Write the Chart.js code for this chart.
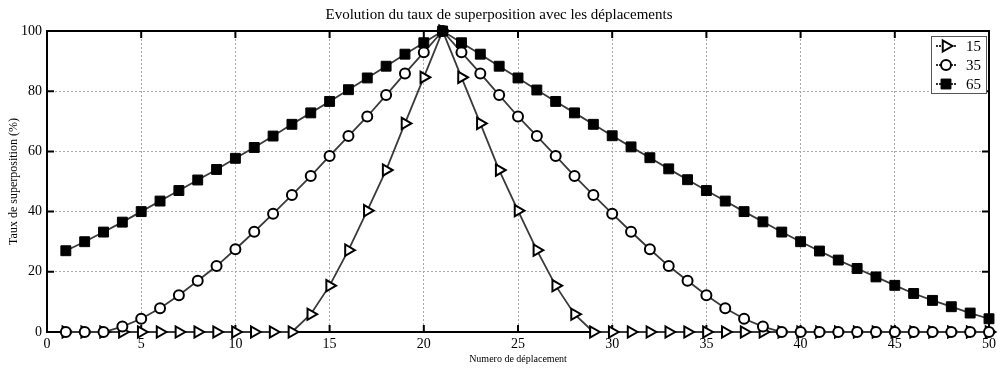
<!DOCTYPE html>
<html>
<head>
<meta charset="utf-8">
<script src="https://cdn.jsdelivr.net/npm/chart.js@4.4.0/dist/chart.umd.min.js"></script>
<style>
  html, body { margin: 0; padding: 0; background: #fff; }
  #wrap { width: 1000px; height: 370px; }
</style>
</head>
<body>
<div id="wrap"><canvas id="chart" width="1000" height="370"></canvas></div>
<script>
// numéros de déplacement (axe x)
const deplacements = [
  1, 2, 3, 4, 5, 6, 7, 8, 9, 10, 11, 12, 13, 14, 15, 16, 17, 18, 19, 20, 21, 22, 23, 24, 25,
  26, 27, 28, 29, 30, 31, 32, 33, 34, 35, 36, 37, 38, 39, 40, 41, 42, 43, 44, 45, 46, 47, 48, 49, 50
];

// taux de superposition (%)
const taux15 = [
  0, 0, 0, 0, 0, 0, 0, 0, 0, 0, 0, 0, 0,
  5.9, 15.4, 27.2, 40.3, 53.8, 69.3, 84.6, 100, 84.6, 69.3, 53.8, 40.3, 27.2, 15.4, 5.9,
  0, 0, 0, 0, 0, 0, 0, 0, 0, 0, 0, 0, 0, 0, 0, 0, 0, 0, 0, 0, 0, 0
];
const taux35 = [
  0, 0, 0,
  1.8, 4.4, 7.9, 12.2, 17, 21.9, 27.5, 33.3, 39.3, 45.5, 51.8, 58.5, 65.1, 71.6, 78.7, 85.9, 92.9,
  100,
  92.9, 85.9, 78.7, 71.6, 65.1, 58.5, 51.8, 45.5, 39.3, 33.3, 27.5, 21.9, 17, 12.2, 7.9, 4.4, 1.8,
  0, 0, 0, 0, 0, 0, 0, 0, 0, 0, 0, 0
];
const taux65 = [
  27, 30, 33.2, 36.5, 40, 43.5, 47, 50.5, 54, 57.7, 61.3, 65.1, 69, 72.8, 76.6, 80.5, 84.4, 88.3, 92.3, 96.1,
  100,
  96.1, 92.3, 88.3, 84.4, 80.4, 76.6, 72.8, 69, 65.2, 61.5, 57.9, 54.2, 50.6, 47, 43.5, 40, 36.6, 33.2, 30,
  26.9, 23.9, 21.1, 18.3, 15.5, 12.8, 10.5, 8.4, 6.3, 4.4
];

const serie = ['15', '35', '65'];

const police = 'Liberation Serif, Times New Roman, serif';

function points(valeurs) {
  return deplacements.map((d, i) => ({ x: d, y: valeurs[i] }));
}

// cadre noir + graduations vers l'intérieur (style matlab)
const cadre = {
  id: 'cadre',
  beforeDatasetsDraw(chart) {
    const { ctx, chartArea: a, scales } = chart;
    ctx.save();
    ctx.strokeStyle = '#000';
    ctx.lineWidth = 2;
    ctx.strokeRect(a.left, a.top, a.right - a.left, a.bottom - a.top);
    const lg = 7;
    ctx.beginPath();
    scales.x.ticks.forEach(t => {
      const px = scales.x.getPixelForValue(t.value);
      ctx.moveTo(px, a.bottom); ctx.lineTo(px, a.bottom - lg);
      ctx.moveTo(px, a.top); ctx.lineTo(px, a.top + lg);
    });
    scales.y.ticks.forEach(t => {
      const py = scales.y.getPixelForValue(t.value);
      ctx.moveTo(a.left, py); ctx.lineTo(a.left + lg, py);
      ctx.moveTo(a.right, py); ctx.lineTo(a.right - lg, py);
    });
    ctx.stroke();
    ctx.restore();
  }
};

// légende encadrée en haut à droite
const legende = {
  id: 'legende',
  afterDraw(chart) {
    const { ctx, chartArea: a } = chart;
    const bw = 55, bh = 57;
    const bx = a.right - bw - 3, by = a.top + 5;
    ctx.save();
    ctx.fillStyle = '#fff';
    ctx.fillRect(bx, by, bw, bh);
    ctx.strokeStyle = '#555';
    ctx.lineWidth = 1;
    ctx.strokeRect(bx + 0.5, by + 0.5, bw, bh);
    chart.data.datasets.forEach((ds, i) => {
      const cy = by + 10 + i * 19;
      ctx.strokeStyle = '#333';
      ctx.lineWidth = 2;
      ctx.setLineDash([2, 1]);
      ctx.beginPath();
      ctx.moveTo(bx + 5, cy); ctx.lineTo(bx + 25, cy);
      ctx.stroke();
      ctx.setLineDash([]);
      ctx.fillStyle = ds.pointBackgroundColor;
      ctx.strokeStyle = ds.pointBorderColor;
      ctx.lineWidth = ds.pointBorderWidth;
      Chart.helpers.drawPoint(ctx, {
        pointStyle: ds.pointStyle,
        rotation: ds.pointRotation || 0,
        radius: ds.pointRadius,
        borderWidth: ds.pointBorderWidth
      }, bx + 15, cy);
      ctx.fillStyle = '#000';
      ctx.font = '15px ' + police;
      ctx.textBaseline = 'middle';
      ctx.fillText(ds.label, bx + 35, cy + 1);
    });
    ctx.restore();
  }
};

new Chart(document.getElementById('chart'), {
  type: 'line',
  data: {
    datasets: [
      {
        label: serie[0],
        data: points(taux15),
        borderColor: '#3a3a3a',
        borderWidth: 1.8,
        pointStyle: 'triangle',
        pointRotation: 90,
        pointRadius: 6.5,
        pointBackgroundColor: '#fff',
        pointBorderColor: '#000',
        pointBorderWidth: 2,
        clip: false,
        order: 3
      },
      {
        label: serie[1],
        data: points(taux35),
        borderColor: '#3a3a3a',
        borderWidth: 1.8,
        pointStyle: 'circle',
        pointRadius: 5,
        pointBackgroundColor: '#fff',
        pointBorderColor: '#000',
        pointBorderWidth: 2,
        clip: false,
        order: 2
      },
      {
        label: serie[2],
        data: points(taux65),
        borderColor: '#3a3a3a',
        borderWidth: 1.8,
        pointStyle: 'rect',
        pointRadius: 7,
        pointBackgroundColor: '#000',
        pointBorderColor: '#000',
        pointBorderWidth: 1,
        clip: false,
        order: 1
      }
    ]
  },
  options: {
    responsive: false,
    animation: false,
    layout: { padding: { left: 7, right: 9, bottom: 5 } },
    scales: {
      x: {
        type: 'linear',
        min: 0,
        max: 50,
        ticks: { stepSize: 5, color: '#000', padding: 4, font: { family: police, size: 14 } },
        grid: { color: '#a8a8a8', lineWidth: 1, drawTicks: false },
        border: { display: false, dash: [2, 2] },
        title: { display: true, text: 'Numero de déplacement', color: '#000', padding: 0, font: { family: police, size: 10 } },
        afterFit: s => { s.height = 33; }
      },
      y: {
        min: 0,
        max: 100,
        ticks: { stepSize: 20, color: '#000', padding: 5, font: { family: police, size: 14 } },
        grid: { color: '#a8a8a8', lineWidth: 1, drawTicks: false },
        border: { display: false, dash: [2, 2] },
        title: { display: true, text: 'Taux de superposition (%)', color: '#000', padding: 0, font: { family: police, size: 12 } },
        afterFit: s => { s.width = 40; }
      }
    },
    plugins: {
      legend: { display: false },
      tooltip: { enabled: false },
      title: {
        display: true,
        text: 'Evolution du taux de superposition avec les déplacements',
        color: '#000',
        font: { family: police, size: 15, weight: 'normal' },
        padding: { top: 6, bottom: 7 }
      }
    }
  },
  plugins: [cadre, legende]
});
</script>
</body>
</html>
